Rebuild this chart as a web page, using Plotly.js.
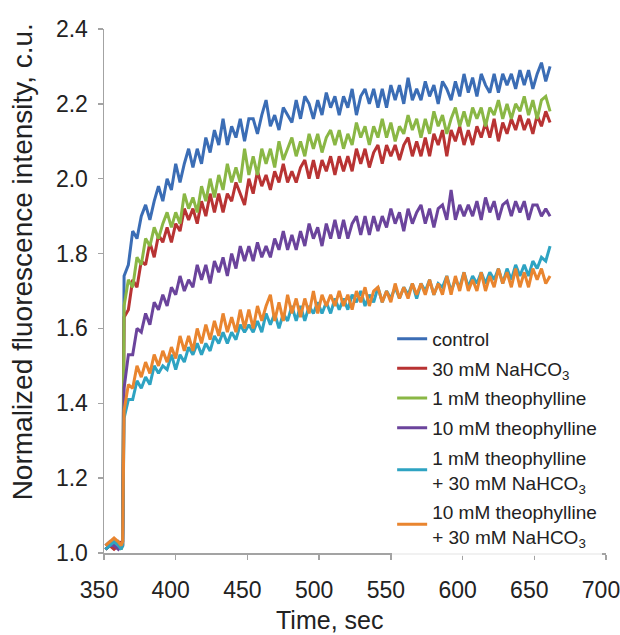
<!DOCTYPE html>
<html>
<head>
<meta charset="utf-8">
<script src="https://cdn.plot.ly/plotly-3.0.1.min.js"></script>
<style>html,body{margin:0;padding:0;background:#fff;}#chart{width:620px;height:635px;}</style>
</head>
<body>
<div id="chart"></div>
<script>
const time = [351,354,357,360,362,363,
 364,367,370,373,376,379,382,385,388,391,
 394,397,400,403,406,409,412,415,418,421,
 424,427,430,433,436,439,442,445,448,451,
 454,457,460,463,466,469,472,475,478,481,
 484,487,490,493,496,499,502,505,508,511,
 514,517,520,523,526,529,532,535,538,541,
 544,547,550,553,556,559,562,565,568,571,
 574,577,580,583,586,589,592,595,598,601,
 604,607,610,613,616,619,622,625,628,631,
 634,637,640,643,646,649,652,655,658,661];

const control = [1.02,1.03,1.02,1.03,1.02,1.03,
 1.74,1.77,1.86,1.84,1.90,1.93,1.89,1.94,1.98,1.94,
 2.00,1.97,2.04,1.99,2.04,2.08,2.03,2.08,2.04,2.11,
 2.07,2.13,2.09,2.16,2.09,2.14,2.11,2.16,2.10,2.16,
 2.16,2.12,2.17,2.21,2.14,2.17,2.13,2.19,2.17,2.15,
 2.21,2.16,2.22,2.20,2.16,2.21,2.17,2.23,2.19,2.22,
 2.17,2.22,2.19,2.24,2.17,2.22,2.24,2.20,2.24,2.19,
 2.24,2.19,2.25,2.21,2.25,2.20,2.27,2.21,2.24,2.21,
 2.26,2.22,2.25,2.20,2.26,2.24,2.21,2.26,2.22,2.28,
 2.23,2.27,2.22,2.28,2.25,2.23,2.28,2.23,2.28,2.25,
 2.28,2.24,2.29,2.25,2.29,2.24,2.28,2.31,2.26,2.30];

const nahco3 = [1.01,1.02,1.01,1.02,1.03,1.02,
 1.63,1.65,1.73,1.71,1.78,1.77,1.83,1.79,1.85,1.83,
 1.87,1.83,1.88,1.86,1.92,1.89,1.92,1.88,1.94,1.90,
 1.96,1.91,1.96,1.91,1.96,1.94,1.99,1.96,1.93,2.00,
 1.96,2.02,1.98,2.01,1.97,2.02,1.99,2.04,1.99,2.02,
 1.99,2.03,2.05,2.00,2.05,2.00,2.05,2.02,2.06,2.01,
 2.06,2.02,2.06,2.02,2.08,2.04,2.08,2.03,2.07,2.09,
 2.04,2.09,2.06,2.09,2.05,2.09,2.11,2.06,2.10,2.06,
 2.11,2.06,2.12,2.09,2.13,2.06,2.13,2.10,2.14,2.09,
 2.13,2.09,2.14,2.11,2.15,2.11,2.16,2.10,2.15,2.12,
 2.16,2.13,2.17,2.13,2.16,2.12,2.17,2.14,2.18,2.15];

const theo1 = [1.01,1.02,1.03,1.02,1.01,1.02,
 1.66,1.73,1.71,1.79,1.77,1.84,1.82,1.87,1.84,1.88,
 1.91,1.87,1.91,1.88,1.96,1.92,1.95,1.91,1.98,1.94,
 2.00,1.95,2.01,1.97,2.04,1.99,2.03,1.99,2.08,2.01,
 2.06,2.01,2.08,2.04,2.08,2.03,2.10,2.05,2.08,2.11,
 2.06,2.10,2.06,2.12,2.08,2.12,2.07,2.11,2.13,2.09,
 2.13,2.08,2.12,2.09,2.15,2.11,2.14,2.09,2.14,2.11,
 2.16,2.11,2.15,2.10,2.14,2.12,2.17,2.13,2.16,2.11,
 2.16,2.12,2.18,2.14,2.17,2.12,2.16,2.19,2.14,2.18,
 2.14,2.19,2.16,2.19,2.14,2.19,2.17,2.21,2.16,2.20,
 2.16,2.20,2.18,2.22,2.17,2.21,2.16,2.21,2.22,2.18];

const theo10 = [1.01,1.02,1.02,1.01,1.02,1.02,
 1.44,1.53,1.53,1.60,1.59,1.64,1.61,1.67,1.65,1.69,
 1.66,1.71,1.69,1.74,1.70,1.73,1.71,1.77,1.73,1.77,
 1.72,1.78,1.75,1.79,1.74,1.80,1.76,1.82,1.78,1.82,
 1.78,1.83,1.79,1.82,1.79,1.84,1.81,1.86,1.81,1.85,
 1.81,1.86,1.82,1.88,1.84,1.87,1.82,1.88,1.84,1.89,
 1.84,1.89,1.84,1.88,1.90,1.85,1.90,1.85,1.90,1.86,
 1.90,1.87,1.92,1.88,1.91,1.86,1.92,1.88,1.91,1.93,
 1.88,1.92,1.87,1.92,1.93,1.89,1.97,1.89,1.93,1.90,
 1.93,1.90,1.94,1.89,1.95,1.91,1.94,1.89,1.93,1.94,
 1.90,1.94,1.91,1.94,1.89,1.93,1.93,1.90,1.92,1.90];

const theo1Nahco3 = [1.01,1.02,1.03,1.02,1.01,1.02,
 1.36,1.41,1.41,1.46,1.44,1.47,1.45,1.50,1.48,1.50,
 1.49,1.53,1.49,1.53,1.51,1.55,1.53,1.56,1.53,1.56,
 1.54,1.58,1.56,1.59,1.56,1.59,1.57,1.61,1.59,1.61,
 1.59,1.62,1.59,1.64,1.61,1.64,1.60,1.64,1.62,1.66,
 1.62,1.66,1.62,1.66,1.64,1.67,1.64,1.67,1.64,1.68,
 1.65,1.68,1.65,1.69,1.67,1.70,1.66,1.69,1.67,1.71,
 1.67,1.70,1.68,1.71,1.68,1.71,1.69,1.72,1.68,1.72,
 1.70,1.73,1.69,1.72,1.71,1.74,1.70,1.73,1.71,1.75,
 1.71,1.74,1.72,1.75,1.72,1.75,1.73,1.76,1.72,1.76,
 1.73,1.77,1.74,1.77,1.74,1.78,1.76,1.79,1.78,1.82];

const theo10Nahco3 = [1.02,1.03,1.04,1.03,1.02,1.03,
 1.38,1.45,1.44,1.50,1.47,1.51,1.48,1.53,1.50,1.54,
 1.51,1.55,1.52,1.58,1.54,1.58,1.54,1.60,1.56,1.61,
 1.57,1.62,1.58,1.64,1.59,1.63,1.59,1.65,1.60,1.65,
 1.60,1.66,1.62,1.66,1.69,1.62,1.67,1.62,1.69,1.64,
 1.68,1.63,1.68,1.64,1.70,1.64,1.69,1.66,1.69,1.66,
 1.70,1.66,1.69,1.65,1.70,1.67,1.71,1.66,1.70,1.71,
 1.67,1.70,1.67,1.72,1.68,1.71,1.68,1.72,1.69,1.72,
 1.69,1.73,1.69,1.72,1.69,1.74,1.69,1.74,1.70,1.75,
 1.70,1.73,1.70,1.75,1.70,1.74,1.71,1.76,1.72,1.75,
 1.71,1.76,1.71,1.75,1.71,1.76,1.73,1.76,1.72,1.74];

const seriesNames = ['control','30 mM NaHCO<sub>3</sub>','1 mM theophylline','10 mM theophylline','1 mM theophylline<br>+ 30 mM NaHCO<sub>3</sub>','10 mM theophylline<br>+ 30 mM NaHCO<sub>3</sub>'];
const seriesValues = [control, nahco3, theo1, theo10, theo1Nahco3, theo10Nahco3];
const seriesColors = ['#3b6db5','#b83333','#8ab745','#6b449c','#2ea3c2','#e9852f'];

const traces = seriesValues.map((v,i)=>({
  x: time, y: v, type:'scatter', mode:'lines', name: seriesNames[i],
  legendgroup: 'g'+i,
  line:{color: seriesColors[i], width:3}
}));

const font = 'Liberation Sans, Arial, sans-serif';
const layout = {
  width:620, height:635,
  margin:{l:104, r:14, t:29, b:82},
  paper_bgcolor:'#ffffff', plot_bgcolor:'#ffffff',
  font:{family:font, color:'#222222'},
  showlegend:true,
  legend:{x:0.574, y:0.445, xanchor:'left', yanchor:'top', font:{size:19, family:font, color:'#222'},
    bgcolor:'rgba(255,255,255,0.85)', traceorder:'grouped', tracegroupgap:2},
  xaxis:{range:[350,700], tickvals:[350,400,450,500,550,600,650,700], showline:true, linecolor:'#a3a3a3', linewidth:1.5,
    ticks:'outside', ticklen:5, tickcolor:'#a3a3a3', tickwidth:1.5, showgrid:false, zeroline:false,
    tickfont:{size:23, family:font, color:'#222'}, ticklabelstandoff:11, ticklabelshift:-5, ticklabeloverflow:'allow'},
  yaxis:{range:[1.0,2.4], tickvals:[1.0,1.2,1.4,1.6,1.8,2.0,2.2,2.4], tickformat:'.1f', showline:true, linecolor:'#a3a3a3', linewidth:1.5,
    ticks:'outside', ticklen:5, tickcolor:'#a3a3a3', tickwidth:1.5, showgrid:false, zeroline:false,
    tickfont:{size:23, family:font, color:'#222'}, ticklabelstandoff:5, ticklabeloverflow:'allow'},
  annotations:[
    {text:'Time, sec', xref:'paper', yref:'paper', x:0.45, y:-0.128, xanchor:'center', yanchor:'middle', showarrow:false, font:{size:25, family:font, color:'#222'}},
    {text:'Normalized fluorescence intensity, c.u.', xref:'paper', yref:'paper', x:-0.163, y:0.555, xanchor:'center', yanchor:'middle', textangle:-90, showarrow:false, font:{size:28, family:font, color:'#222'}}
  ]
};
Plotly.newPlot('chart', traces, layout, {displayModeBar:false, staticPlot:true});
</script>
</body>
</html>
